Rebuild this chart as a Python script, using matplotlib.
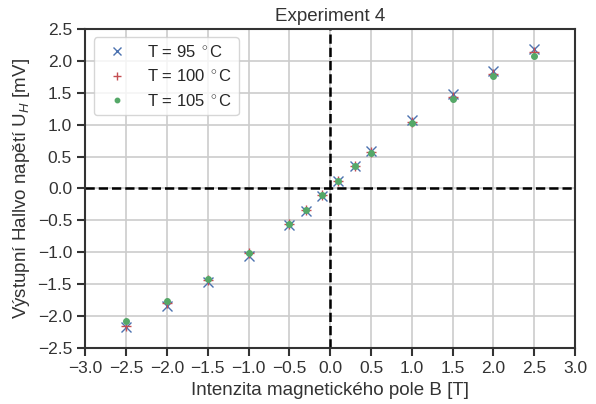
import numpy as np
import seaborn as sns
from matplotlib import pyplot as plt

sns.set_theme(style="ticks")
plt.rcParams['font.family'] = ['Liberation Sans', 'DejaVu Sans']
plt.rcParams['mathtext.fontset'] = 'custom'
plt.rcParams['mathtext.rm'] = 'Liberation Sans'
plt.rcParams['mathtext.it'] = 'Liberation Sans:italic'

# magnetic field B [T]
B = [-2.5, -2.0, -1.5, -1.0, -0.5, -0.3, -0.1, 0.1, 0.3, 0.5, 1.0, 1.5, 2.0, 2.5]
# Hall voltage [mV] for each temperature
U_95 = [-2.18, -1.85, -1.47, -1.06, -0.57, -0.35, -0.12, 0.12, 0.36, 0.58, 1.07, 1.48, 1.84, 2.19]
U_100 = [-2.15, -1.80, -1.43, -1.02, -0.55, -0.34, -0.11, 0.12, 0.35, 0.57, 1.05, 1.44, 1.79, 2.14]
U_105 = [-2.08, -1.77, -1.42, -1.01, -0.55, -0.34, -0.11, 0.12, 0.35, 0.55, 1.03, 1.41, 1.76, 2.08]

pal = sns.color_palette("deep")

fig, ax = plt.subplots(figsize=(5.96, 4.04), dpi=100)
ax.grid(True, color='#cccccc', linewidth=1.2)
ax.set_axisbelow(True)
ax.axhline(0, color='black', linestyle='--', linewidth=1.8, zorder=1)
ax.axvline(0, color='black', linestyle='--', linewidth=1.8, zorder=1)

ax.plot(B, U_95, 'x', color=pal[0], markersize=7.5, label='T = 95 $^\\circ$C', zorder=3)
ax.plot(B, U_100, '+', color=pal[3], markersize=7.5, label='T = 100 $^\\circ$C', zorder=3)
ax.plot(B, U_105, '.', color=pal[2], markersize=8, label='T = 105 $^\\circ$C', zorder=3)

ax.set_xlim(-3, 3)
ax.set_ylim(-2.5, 2.5)
ax.set_xticks(np.arange(-3, 3.01, 0.5))
ax.set_yticks(np.arange(-2.5, 2.51, 0.5))
for s in ax.spines.values():
    s.set_color('#333333')
    s.set_linewidth(1.5)
ax.tick_params(colors='#333333', labelsize=12.5, width=1.5, length=6)
ax.set_xlabel('Intenzita magnetického pole B [T]', fontsize=13.5, color='#333333')
ax.set_ylabel('Výstupní Hallvo napětí U$_H$ [mV]', fontsize=13.5, color='#333333')
ax.set_title('Experiment 4', fontsize=13.5, color='#333333')
ax.legend(loc='upper left', fontsize=12, markerscale=0.8)

plt.subplots_adjust(left=0.143, right=0.965, top=0.928, bottom=0.139)
plt.savefig('out.png')
